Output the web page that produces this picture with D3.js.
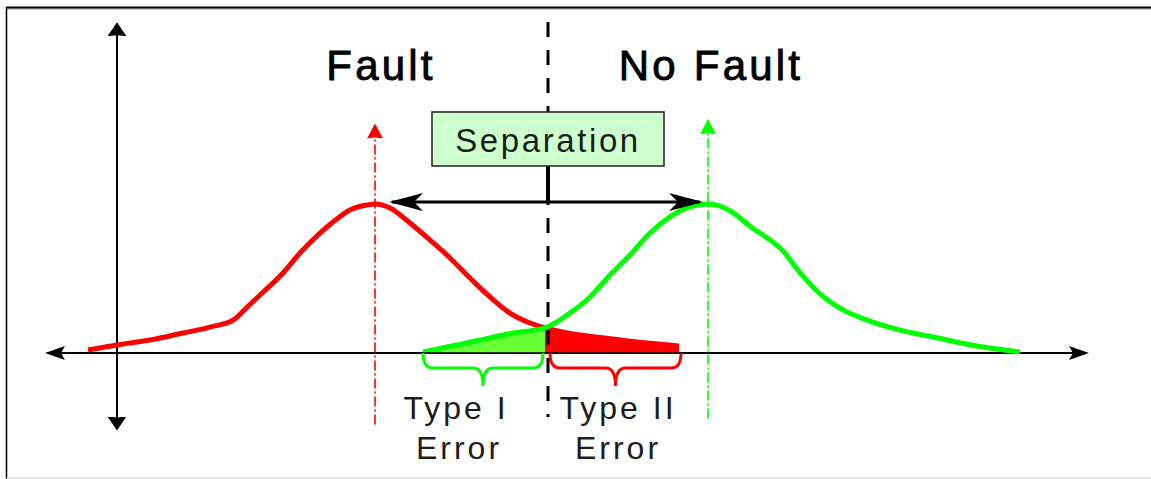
<!DOCTYPE html>
<html>
<head>
<meta charset="utf-8">
<script src="https://cdn.jsdelivr.net/npm/d3@7"></script>
<style>
  html, body { margin: 0; padding: 0; background: #fff; }
  svg { display: block; }
  .title { font-family: "Liberation Sans", Arial, sans-serif; font-weight: normal; fill: #000; stroke: #000; stroke-width: 0.9px; }
  .label { font-family: "Liberation Sans", Arial, sans-serif; fill: #1c1c1c; }
</style>
</head>
<body>
<svg id="chart" width="1151" height="479"></svg>
<script>
// data (x in arbitrary units, y = density relative to peak)
const faultX = [-2.9, 0, 3.3, 6.6, 9.3, 11.6, 12.9, 14.3, 16.6, 18.3, 20.3, 21.6, 23.3, 25.0, 25.8,
  27.3, 29.3, 31.3, 33.3, 35.3, 37.3, 39.3, 41.3, 42.8, 46.3, 49.6, 53.0, 56.2];
const faultY = [0.02, 0.054, 0.087, 0.134, 0.174, 0.22, 0.3, 0.389, 0.537, 0.671, 0.805, 0.879, 0.96, 0.993, 1.0,
  0.973, 0.872, 0.758, 0.638, 0.503, 0.376, 0.268, 0.201, 0.168, 0.121, 0.094, 0.067, 0.047];
const noFaultX = [30.6, 33.0, 36.3, 39.6, 42.8, 45.3, 47.3, 49.3, 51.3, 53.3, 55.3, 57.3, 59.1,
  61.3, 63.3, 66.6, 68.3, 70.6, 72.6, 75.0, 78.3, 81.6, 86.6, 90.3];
const noFaultY = [0.007, 0.04, 0.087, 0.134, 0.168, 0.268, 0.376, 0.523, 0.658, 0.805, 0.913, 0.98, 1.0,
  0.955, 0.85, 0.685, 0.54, 0.38, 0.289, 0.221, 0.154, 0.107, 0.04, 0.007];

const threshold = 42.8;
const peaks = [25.8, 59.1];
const typeIRange = [30.6, threshold];
const typeIIRange = [threshold, 56.2];
const xExtent = [-6.9, 96.9];
const yExtent = [-0.5, 2.2];
const titles = ["Fault", "No Fault"];
const errorLabels = [["Type I", "Error"], ["Type II", "Error"]];

const svg = d3.select("#chart");
const W = 1151, H = 479;

const x = d3.scaleLinear().domain([0, 10]).range([117, 217]);
const y = d3.scaleLinear().domain([0, 1]).range([353, 204]);

const RED = "#ff0000", GREEN = "#00ff00";

// frame
svg.append("line").attr("x1", 6).attr("x2", W).attr("y1", 9).attr("y2", 9)
  .attr("stroke", "#999").attr("stroke-width", 1);
svg.append("line").attr("x1", 6).attr("x2", W).attr("y1", 7.5).attr("y2", 7.5)
  .attr("stroke", "#000").attr("stroke-width", 2);
svg.append("line").attr("x1", 6.5).attr("x2", 6.5).attr("y1", 7).attr("y2", H)
  .attr("stroke", "#000").attr("stroke-width", 1.5);
svg.append("line").attr("x1", 6).attr("x2", W).attr("y1", 478).attr("y2", 478)
  .attr("stroke", "#ccc").attr("stroke-width", 1);

// markers
const defs = svg.append("defs");
function marker(id, len, half, notch, color) {
  defs.append("marker")
    .attr("id", id)
    .attr("markerUnits", "userSpaceOnUse")
    .attr("viewBox", `0 ${-half} ${len} ${half * 2}`)
    .attr("markerWidth", len).attr("markerHeight", half * 2)
    .attr("refX", len - 3).attr("refY", 0)
    .attr("orient", "auto-start-reverse")
    .append("path")
    .attr("d", `M0,${-half}L${len},0L0,${half}L${notch},0Z`)
    .attr("fill", color);
}
marker("axH", 20, 7, 4, "#000");
marker("axV", 14, 9.5, 1, "#000");
marker("sep", 34, 9, 9, "#000");
marker("redHead", 15, 8, 1, RED);
marker("greenHead", 15, 8, 1, GREEN);

// axes
svg.append("line")
  .attr("x1", x(xExtent[0])).attr("x2", x(xExtent[1]))
  .attr("y1", y(0)).attr("y2", y(0))
  .attr("stroke", "#000").attr("stroke-width", 2)
  .attr("marker-start", "url(#axH)").attr("marker-end", "url(#axH)");
svg.append("line")
  .attr("x1", x(0)).attr("x2", x(0))
  .attr("y1", y(yExtent[1])).attr("y2", y(yExtent[0]))
  .attr("stroke", "#000").attr("stroke-width", 2)
  .attr("marker-start", "url(#axV)").attr("marker-end", "url(#axV)");

// error areas
const faultPts = faultX.map((d, i) => [d, faultY[i]]);
const noFaultPts = noFaultX.map((d, i) => [d, noFaultY[i]]);

const area = d3.area()
  .x((d) => x(d[0]))
  .y0(y(0))
  .y1((d) => y(d[1]))
  .curve(d3.curveMonotoneX);

svg.append("path")
  .datum(noFaultPts.filter((d) => d[0] >= typeIRange[0] && d[0] <= typeIRange[1]))
  .attr("d", area)
  .attr("fill", "#66ff33");
svg.append("path")
  .datum(faultPts.filter((d) => d[0] >= typeIIRange[0] && d[0] <= typeIIRange[1]))
  .attr("d", area)
  .attr("fill", RED);

// curves
const line = d3.line()
  .x((d) => x(d[0]))
  .y((d) => y(d[1]))
  .curve(d3.curveMonotoneX);

svg.append("path").datum(faultPts).attr("d", line)
  .attr("fill", "none").attr("stroke", RED).attr("stroke-width", 5)
  .attr("stroke-linecap", "butt");
svg.append("path").datum(noFaultPts).attr("d", line)
  .attr("fill", "none").attr("stroke", GREEN).attr("stroke-width", 5)
  .attr("stroke-linecap", "butt");

// redraw axis line over fills
svg.append("line")
  .attr("x1", x(typeIRange[0]) - 2).attr("x2", x(typeIIRange[1]) + 2)
  .attr("y1", y(0)).attr("y2", y(0))
  .attr("stroke", "#000").attr("stroke-width", 1.5);

// peak dash-dot lines
const peakColors = [RED, GREEN];
const peakHeads = ["redHead", "greenHead"];
const peakBottoms = [-0.48, -0.44];
const peakTops = [1.52, 1.55];
peaks.forEach((p, i) => {
  svg.append("line")
    .attr("x1", x(p)).attr("x2", x(p))
    .attr("y1", y(peakBottoms[i])).attr("y2", y(peakTops[i]))
    .attr("stroke", peakColors[i]).attr("stroke-width", 1.6)
    .attr("stroke-dasharray", "10,3,2,3")
    .attr("marker-end", `url(#${peakHeads[i]})`);
});

// threshold dashed line
svg.append("line")
  .attr("x1", x(threshold) + 3).attr("x2", x(threshold) + 3)
  .attr("y1", 22).attr("y2", 417)
  .attr("stroke", "#000").attr("stroke-width", 3)
  .attr("stroke-dasharray", "15,13");

// braces under the error regions
function brace(x0, x1, top, mid) {
  const h = top + 15, tip = top + 33, r = 10;
  return `M${x0},${top}Q${x0},${h} ${x0 + r},${h}L${mid - r},${h}Q${mid},${h} ${mid},${tip}` +
    `Q${mid},${h} ${mid + r},${h}L${x1 - r},${h}Q${x1},${h} ${x1},${top}`;
}
const braceRanges = [typeIRange, typeIIRange];
const braceColors = [GREEN, RED];
const braceInset = [[0, -2], [5, 2]];
braceRanges.forEach((r, i) => {
  const x0 = x(r[0]) + braceInset[i][0], x1 = x(r[1]) + braceInset[i][1];
  svg.append("path")
    .attr("d", brace(x0, x1, y(0), (x0 + x1) / 2))
    .attr("fill", "none").attr("stroke", braceColors[i]).attr("stroke-width", 3);
});

// error labels
errorLabels.forEach((lines, i) => {
  const cx = (x(braceRanges[i][0]) + x(braceRanges[i][1])) / 2 + (i === 0 ? -28 : 6);
  const t = svg.append("text").attr("class", "label")
    .attr("text-anchor", "middle")
    .style("font-size", "32px").style("letter-spacing", "3px");
  lines.forEach((s, j) => {
    t.append("tspan").attr("x", cx + (j === 1 && i === 0 ? 3 : 0))
      .attr("y", 419 + j * 40).text(s);
  });
});

// separation double arrow
const arrowY = y(1.013);
svg.append("line")
  .attr("x1", x(peaks[0]) + 17).attr("x2", x(peaks[1]) - 8)
  .attr("y1", arrowY).attr("y2", arrowY)
  .attr("stroke", "#000").attr("stroke-width", 3)
  .attr("marker-start", "url(#sep)").attr("marker-end", "url(#sep)");

const boxX = 432, boxY = 112, boxW = 232, boxH = 54;
svg.append("line")
  .attr("x1", x(threshold) + 3).attr("x2", x(threshold) + 3)
  .attr("y1", boxY + boxH).attr("y2", arrowY)
  .attr("stroke", "#000").attr("stroke-width", 4);
svg.append("rect")
  .attr("x", boxX).attr("y", boxY).attr("width", boxW).attr("height", boxH)
  .attr("fill", "#ccffcc").attr("stroke", "#222").attr("stroke-width", 1.5);
svg.append("text").attr("class", "label")
  .attr("x", boxX + boxW / 2).attr("y", boxY + 40)
  .attr("text-anchor", "middle")
  .style("font-size", "33px").style("letter-spacing", "2.6px")
  .text("Separation");

// titles above each distribution
svg.selectAll("text.title")
  .data(titles)
  .join("text")
  .attr("class", "title")
  .attr("x", (d, i) => x(peaks[i]) + (i === 0 ? 6 : 3))
  .attr("y", 80)
  .attr("text-anchor", "middle")
  .style("font-size", "42px")
  .style("letter-spacing", "3.2px")
  .text((d) => d);
</script>
</body>
</html>
